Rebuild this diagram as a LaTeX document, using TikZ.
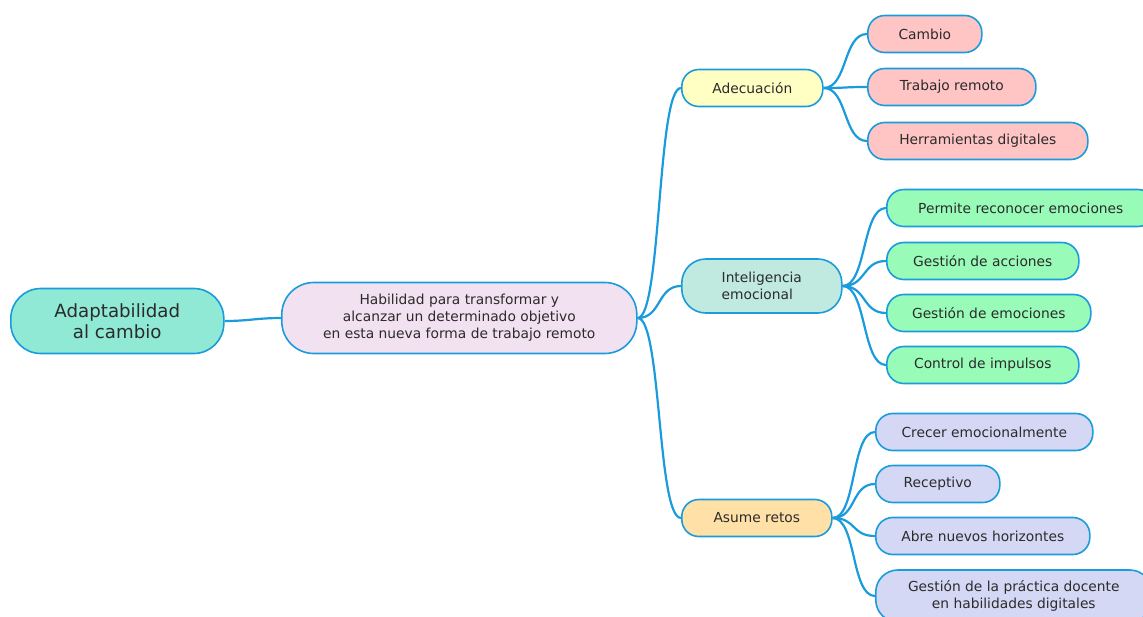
\documentclass[tikz,border=0pt]{standalone}
\usepackage{fontspec}
\setmainfont{DejaVu Sans}
\usepackage{tikz}
\usetikzlibrary{positioning}

\definecolor{linkblue}{HTML}{1A9BDB}
\definecolor{textdark}{HTML}{2B2B2B}
\definecolor{rootfill}{HTML}{8FE9D5}
\definecolor{mainfill}{HTML}{F2E1F0}
\definecolor{lemonfill}{HTML}{FFFFC4}
\definecolor{tealfill}{HTML}{C0EAE0}
\definecolor{orangefill}{HTML}{FFE1A8}
\definecolor{pinkfill}{HTML}{FFC4C4}
\definecolor{greenfill}{HTML}{98FCB8}
\definecolor{lavfill}{HTML}{D5D8F5}

\begin{document}
\begin{tikzpicture}[
        x=1pt, y=-1pt,
        topic/.style={rectangle,draw=linkblue,line width=1.6pt,rounded corners=17pt,minimum height=37pt,anchor=west,align=center,inner xsep=0pt,text=textdark,font=\fontsize{13.8}{17}\selectfont},
        branch/.style={draw=linkblue,line width=2.2pt,out=0,in=180,out distance=24pt,in distance=24pt},
        ]
        \useasboundingbox (0,0) rectangle (1143,616);

        \node[topic, fill=rootfill, minimum width=213pt, minimum height=65pt, rounded corners=30pt, font=\fontsize{18.2}{21}\selectfont](root) at (10,321){Adaptabilidad\\al cambio};
        \node[topic, fill=mainfill, minimum width=355pt, minimum height=71pt, rounded corners=32pt](habilidad) at (281,318){Habilidad para transformar y\\alcanzar un determinado objetivo\\en esta nueva forma de trabajo remoto};

        \node[topic, fill=lemonfill, minimum width=141pt](adecuacion) at (681,88){Adecuación};
        \node[topic, fill=tealfill, minimum width=160pt, minimum height=54pt, rounded corners=24pt, align=left](inteligencia) at (681,286){Inteligencia\\emocional};
        \node[topic, fill=orangefill, minimum width=150pt](retos) at (681,518){Asume retos};

        \node[topic, fill=pinkfill, minimum width=114pt](cambio) at (867,34){Cambio};
        \node[topic, fill=pinkfill, minimum width=168pt](remoto) at (867,87){Trabajo remoto};
        \node[topic, fill=pinkfill, minimum width=220pt](herramientas) at (867,141){Herramientas digitales};

        \node[topic, fill=greenfill, minimum width=268pt](reconocer) at (886,208){Permite reconocer emociones};
        \node[topic, fill=greenfill, minimum width=192pt](acciones) at (886,261){Gestión de acciones};
        \node[topic, fill=greenfill, minimum width=204pt](emociones) at (886,313){Gestión de emociones};
        \node[topic, fill=greenfill, minimum width=192pt](impulsos) at (886,365){Control de impulsos};

        \node[topic, fill=lavfill, minimum width=217pt](crecer) at (875,432){Crecer emocionalmente};
        \node[topic, fill=lavfill, minimum width=124pt](receptivo) at (875,484){Receptivo};
        \node[topic, fill=lavfill, minimum width=214pt](horizontes) at (875,536){Abre nuevos horizontes};
        \node[topic, fill=lavfill, minimum width=276pt, minimum height=52pt, rounded corners=22pt](practica) at (875,596){Gestión de la práctica docente\\en habilidades digitales};

        \draw[branch] (root.east) to (habilidad.west);

        \draw[branch] (habilidad.east) to (adecuacion.west);
        \draw[branch] (habilidad.east) to (inteligencia.west);
        \draw[branch] (habilidad.east) to (retos.west);

        \draw[branch] (adecuacion.east) to (cambio.west);
        \draw[branch] (adecuacion.east) to (remoto.west);
        \draw[branch] (adecuacion.east) to (herramientas.west);

        \draw[branch] (inteligencia.east) to (reconocer.west);
        \draw[branch] (inteligencia.east) to (acciones.west);
        \draw[branch] (inteligencia.east) to (emociones.west);
        \draw[branch] (inteligencia.east) to (impulsos.west);

        \draw[branch] (retos.east) to (crecer.west);
        \draw[branch] (retos.east) to (receptivo.west);
        \draw[branch] (retos.east) to (horizontes.west);
        \draw[branch] (retos.east) to (practica.west);

\end{tikzpicture}
\end{document}
